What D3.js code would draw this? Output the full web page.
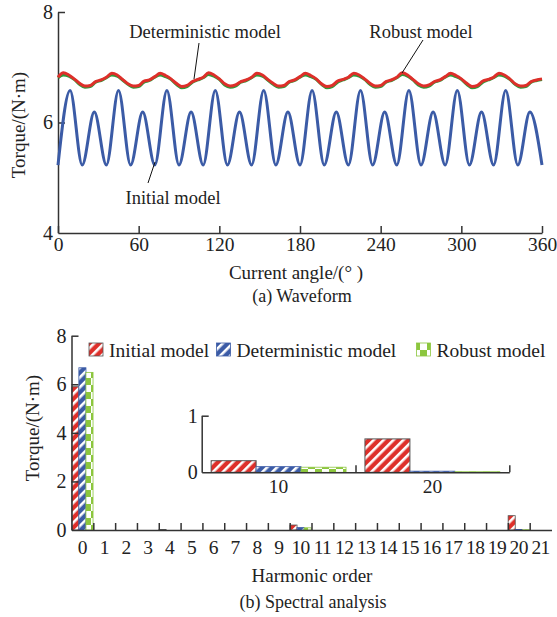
<!DOCTYPE html>
<html><head><meta charset="utf-8">
<script src="https://cdn.jsdelivr.net/npm/d3@7"></script>
<style>
body{margin:0;background:#fff}
svg{display:block}
text{font-family:'Liberation Serif','Times New Roman',serif;fill:#222}
</style>
</head><body>
<svg id="c" width="557" height="617"></svg>
<script>
// ---------- DATA ----------
// (a) Waveform
const xTicksA = [0, 60, 120, 180, 240, 300, 360];
const yTicksA = [4, 6, 8];
const anglesInitial = [0,9,18,27,36,45,54,63,72,81,90,99,108,117,126,135,144,153,162,171,180,189,198,207,216,225,234,243,252,261,270,279,288,297,306,315,324,333,342,351,360];
const initialModel = [5.23,6.58,5.23,6.19,5.23,6.58,5.23,6.19,5.23,6.58,5.23,6.19,5.23,6.58,5.23,6.19,5.23,6.58,5.23,6.19,5.23,6.58,5.23,6.19,5.23,6.58,5.23,6.19,5.23,6.58,5.23,6.19,5.23,6.58,5.23,6.19,5.23,6.58,5.23,6.19,5.23];
const anglesRB = d3.range(0, 361, 4);
const robustModel = [
 6.82,6.90,6.86,6.79,6.71,6.66,6.67,6.74,6.77,
 6.82,6.89,6.86,6.78,6.70,6.66,6.67,6.75,6.77,
 6.83,6.89,6.85,6.79,6.71,6.65,6.67,6.74,6.78,
 6.82,6.90,6.86,6.79,6.70,6.66,6.68,6.74,6.77,
 6.82,6.89,6.86,6.78,6.71,6.66,6.67,6.74,6.77,
 6.83,6.89,6.85,6.79,6.70,6.65,6.67,6.75,6.78,
 6.82,6.89,6.86,6.79,6.71,6.66,6.67,6.74,6.77,
 6.82,6.90,6.86,6.78,6.70,6.66,6.68,6.74,6.77,
 6.83,6.89,6.85,6.79,6.71,6.65,6.67,6.75,6.78,
 6.82,6.89,6.86,6.79,6.70,6.66,6.67,6.74,6.77,
 6.79];
const deterministicModel = [
 6.81,6.86,6.84,6.78,6.69,6.64,6.65,6.73,6.76,
 6.81,6.86,6.84,6.77,6.69,6.64,6.65,6.73,6.76,
 6.82,6.86,6.83,6.78,6.69,6.63,6.65,6.73,6.77,
 6.81,6.87,6.84,6.78,6.68,6.64,6.66,6.73,6.76,
 6.81,6.86,6.84,6.77,6.69,6.64,6.65,6.73,6.76,
 6.82,6.86,6.83,6.78,6.69,6.63,6.65,6.73,6.77,
 6.81,6.86,6.84,6.78,6.69,6.64,6.65,6.73,6.76,
 6.81,6.87,6.84,6.77,6.68,6.64,6.66,6.73,6.76,
 6.82,6.86,6.83,6.78,6.69,6.63,6.65,6.73,6.77,
 6.81,6.86,6.84,6.78,6.69,6.64,6.65,6.73,6.76,
 6.78];

// (b) Spectral analysis
const harmonics = [0,1,2,3,4,5,6,7,8,9,10,11,12,13,14,15,16,17,18,19,20,21];
const seriesNames = ["Initial model", "Deterministic model", "Robust model"];
const specInitial       = [5.90,0,0,0,0.02,0,0,0,0,0,0.205,0,0,0,0,0,0,0,0,0,0.59,0];
const specDeterministic = [6.68,0,0,0,0,0,0,0,0,0,0.10,0,0,0,0,0,0,0,0,0,0.02,0];
const specRobust        = [6.49,0,0,0,0,0,0,0,0,0,0.09,0,0,0,0,0,0,0,0,0,0.01,0];
const yTicksB = [0, 2, 4, 6, 8];
const insetHarmonics = [10, 20];
const yTicksInset = [0, 1];

// ---------- STYLE ----------
const C = {red:"#de2f2a", blue:"#3b5ba6", green:"#8cc63e", lineGreen:"#2f9a3a", axis:"#333"};
const intFmt = d3.format("d");
const svg = d3.select("#c");
const defs = svg.append("defs");
function stripes(id, col){
  const p = defs.append("pattern").attr("id",id).attr("patternUnits","userSpaceOnUse")
    .attr("width",7).attr("height",7).attr("patternTransform","rotate(45)");
  p.append("rect").attr("width",7).attr("height",7).attr("fill",col);
  p.append("rect").attr("width",2.6).attr("height",7).attr("fill","#fff");
}
stripes("pR", C.red); stripes("pB", C.blue);
{
  const p = defs.append("pattern").attr("id","pG").attr("patternUnits","userSpaceOnUse").attr("width",14).attr("height",14);
  p.append("rect").attr("width",14).attr("height",14).attr("fill","#fff");
  p.append("rect").attr("width",7).attr("height",7).attr("fill",C.green);
  p.append("rect").attr("x",7).attr("y",7).attr("width",7).attr("height",7).attr("fill",C.green);
}
const fills = ["url(#pR)","url(#pB)","url(#pG)"];
const strokes = ["#555", C.blue, C.green];

function styleAxis(g, fs){
  g.selectAll(".domain").attr("stroke",C.axis).attr("stroke-width",1.5);
  g.selectAll(".tick line").attr("stroke",C.axis).attr("stroke-width",1.5);
  g.selectAll("text").attr("font-size",fs).attr("fill","#222")
    .attr("font-family","'Liberation Serif','Times New Roman',serif");
}

// ---------- (a) WAVEFORM ----------
const xA = d3.scaleLinear([0,360],[58,542]);
const yA = d3.scaleLinear([4,8],[233,12]);
const gxA = svg.append("g").attr("transform","translate(0,233)")
  .call(d3.axisBottom(xA).tickValues(xTicksA).tickFormat(intFmt).tickSizeInner(-7).tickSizeOuter(0).tickPadding(4));
styleAxis(gxA, 19.5);
const gyA = svg.append("g").attr("transform","translate(58,0)")
  .call(d3.axisLeft(yA).tickValues(yTicksA).tickFormat(intFmt).tickSizeInner(-7).tickSizeOuter(0).tickPadding(5));
styleAxis(gyA, 20);
gyA.selectAll(".tick").filter(d=>d===4).select("line").remove();

const line = (xs, ys) => d3.line().x((d,i)=>xA(xs[i])).y(d=>yA(d)).curve(d3.curveMonotoneX)(ys);
svg.append("path").attr("d",line(anglesInitial, initialModel)).attr("fill","none").attr("stroke",C.blue).attr("stroke-width",3);
svg.append("path").attr("d",line(anglesRB, deterministicModel)).attr("fill","none").attr("stroke",C.lineGreen).attr("stroke-width",3);
svg.append("path").attr("d",line(anglesRB, robustModel)).attr("fill","none").attr("stroke",C.red).attr("stroke-width",3);

// annotations
const ann = [
  {t:"Deterministic model", x:205, y:32, lx1:199, ly1:43, lx2:194, ly2:79},
  {t:"Robust model", x:421, y:32, lx1:423, ly1:40, lx2:402, ly2:73},
  {t:"Initial model", x:173, y:198, lx1:148, ly1:183, lx2:155, ly2:162}
];
ann.forEach(a=>{
  svg.append("line").attr("x1",a.lx1).attr("y1",a.ly1).attr("x2",a.lx2).attr("y2",a.ly2).attr("stroke","#111").attr("stroke-width",1);
  svg.append("text").attr("x",a.x).attr("y",a.y).attr("text-anchor","middle").attr("dominant-baseline","central")
    .attr("font-size",18.5).text(a.t);
});
svg.append("text").attr("transform","translate(18,125) rotate(-90)").attr("text-anchor","middle").attr("dominant-baseline","central").attr("font-size",19).text("Torque/(N·m)");
svg.append("text").attr("x",296).attr("y",272).attr("text-anchor","middle").attr("dominant-baseline","central").attr("font-size",19).text("Current angle/(° )");
svg.append("text").attr("x",302).attr("y",296).attr("text-anchor","middle").attr("dominant-baseline","central").attr("font-size",18).text("(a) Waveform");

// ---------- (b) SPECTRAL ----------
const xB = d3.scaleBand(harmonics,[71.5,551.5]).padding(0);
const xBlin = d3.scaleLinear([0,22],[71.5,551.5]);
const xBs = d3.scaleBand(seriesNames,[0,xB.bandwidth()]).paddingInner(0).paddingOuter(0.04);
const yB = d3.scaleLinear([0,8],[530,335.7]);
const specSeries = [specInitial, specDeterministic, specRobust];

specSeries.forEach((vals,si)=>{
  svg.append("g").selectAll("rect").data(harmonics.filter(h=>vals[h]>0)).join("rect")
    .attr("x",h=>xB(h)+xBs(seriesNames[si])).attr("width",xBs.bandwidth())
    .attr("y",h=>yB(vals[h])).attr("height",h=>yB(0)-yB(vals[h]))
    .attr("fill",fills[si]).attr("stroke",strokes[si]).attr("stroke-width",0.8);
});

const gxB = svg.append("g").attr("transform","translate(0,530)")
  .call(d3.axisBottom(xBlin).tickValues(d3.range(1,22)).tickSizeInner(-7).tickSizeOuter(0).tickFormat(""));
styleAxis(gxB, 19);
const gxBl = svg.append("g").attr("transform","translate(0,530)")
  .call(d3.axisBottom(xB).tickSize(0).tickPadding(10));
gxBl.select(".domain").remove();
styleAxis(gxBl, 19.5);
gxBl.selectAll("text").attr("letter-spacing",-0.6);
const gyB = svg.append("g").attr("transform","translate(71.5,0)")
  .call(d3.axisLeft(yB).tickValues(yTicksB).tickFormat(intFmt).tickSizeInner(-7).tickSizeOuter(0).tickPadding(5));
styleAxis(gyB, 20);
gyB.selectAll(".tick").filter(d=>d===0).select("line").remove();

svg.append("text").attr("transform","translate(32,428) rotate(-90)").attr("text-anchor","middle").attr("dominant-baseline","central").attr("font-size",19).text("Torque/(N·m)");
svg.append("text").attr("x",312).attr("y",575).attr("text-anchor","middle").attr("dominant-baseline","central").attr("font-size",19).text("Harmonic order");
svg.append("text").attr("x",313).attr("y",602).attr("text-anchor","middle").attr("dominant-baseline","central").attr("font-size",18).text("(b) Spectral analysis");

// legend
const legX = [89, 216.5, 416.5];
seriesNames.forEach((n,i)=>{
  svg.append("rect").attr("x",legX[i]).attr("y",343).attr("width",14).attr("height",13)
    .attr("fill",fills[i]).attr("stroke",strokes[i]).attr("stroke-width",0.8);
  svg.append("text").attr("x",legX[i]+20).attr("y",350).attr("dominant-baseline","central").attr("font-size",19.5).text(n);
});

// inset
const xI = d3.scaleBand(insetHarmonics,[201.7,509.3]).padding(0);
const xIlin = d3.scaleLinear([0,2],[201.7,509.3]);
const xIs = d3.scaleBand(seriesNames,[0,xI.bandwidth()]).paddingInner(0).paddingOuter(0.21);
const yI = d3.scaleLinear([0,1],[472.3,415.7]);
specSeries.forEach((vals,si)=>{
  svg.append("g").selectAll("rect").data(insetHarmonics).join("rect")
    .attr("x",h=>xI(h)+xIs(seriesNames[si])).attr("width",xIs.bandwidth())
    .attr("y",h=>yI(vals[h])).attr("height",h=>yI(0)-yI(vals[h]))
    .attr("fill",fills[si]).attr("stroke",strokes[si]).attr("stroke-width",si===0?1:0.8);
});
const gxI = svg.append("g").attr("transform","translate(0,472.3)")
  .call(d3.axisBottom(xIlin).tickValues([1,2]).tickSizeInner(-7).tickSizeOuter(0).tickFormat(""));
styleAxis(gxI, 19);
const gxIl = svg.append("g").attr("transform","translate(0,472.3)")
  .call(d3.axisBottom(xI).tickSize(0).tickPadding(7));
gxIl.select(".domain").remove();
styleAxis(gxIl, 19.5);
const gyI = svg.append("g").attr("transform","translate(201.7,0)")
  .call(d3.axisLeft(yI).tickValues(yTicksInset).tickFormat(intFmt).tickSizeInner(-7).tickSizeOuter(0).tickPadding(4));
styleAxis(gyI, 20);
gyI.selectAll(".tick").filter(d=>d===0).select("line").remove();
</script>
</body></html>
